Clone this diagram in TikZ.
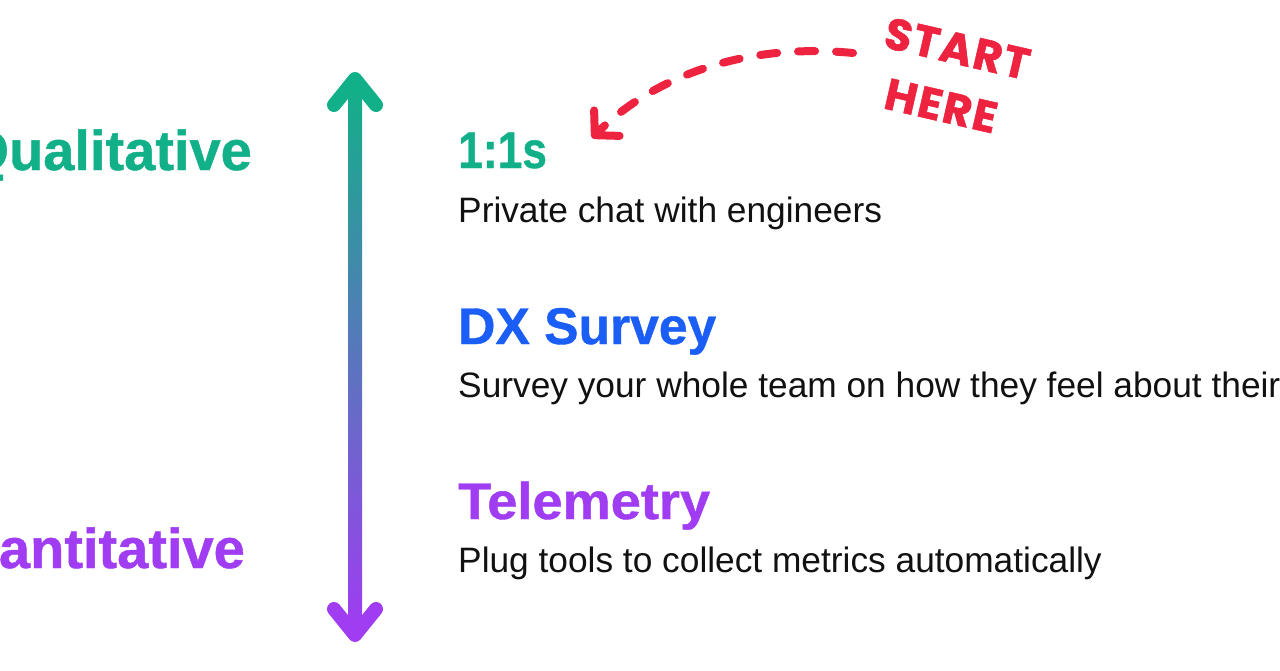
\documentclass[tikz,border=0pt]{standalone}
\usepackage{fontspec}
\setmainfont{Liberation Sans}[BoldFeatures={FakeBold=0.8}]
\newfontfamily\handfont{Poppins}[LetterSpace=4, BoldFeatures={FakeBold=1.2}]
\usetikzlibrary{arrows.meta}
\definecolor{qgreen}{HTML}{12B088}
\definecolor{dxblue}{HTML}{1A5EF5}
\definecolor{tpurple}{HTML}{A03CF2}
\definecolor{hred}{HTML}{EE2340}
\definecolor{ink}{HTML}{111111}
\tikzset{
  title/.style={anchor=base west, inner sep=0pt, font=\fontsize{51.6}{60}\selectfont\bfseries},
  desc/.style={anchor=base west, inner sep=0pt, text=ink, font=\fontsize{35.3}{42}\selectfont},
  side/.style={anchor=base east, inner sep=0pt, font=\fontsize{56}{62}\selectfont\bfseries},
  hand/.style={anchor=base west, inner sep=0pt, text=hred, rotate=-13, font=\handfont\bfseries\fontsize{44}{48}\selectfont},
  head/.style={line width=14pt, line cap=round, line join=round},
}
\begin{document}
\begin{tikzpicture}[x=1pt,y=-1pt]
\useasboundingbox (0,0) rectangle (1280,670);
\fill[white] (0,0) rectangle (1280,670);
\clip (0,0) rectangle (1280,670);

% side labels
\node[side, text=qgreen] (qual) at (252,170) {Qualitative};
\node[side, text=tpurple] (quant) at (245,568) {Quantitative};

% gradient double arrow
\coordinate (top) at (355,79);
\coordinate (bot) at (355,635);
\shade[top color=qgreen, bottom color=tpurple] (348,85) rectangle (362,629);
\draw[head, qgreen] ([xshift=-21pt,yshift=-26pt]top) -- (top) -- ([xshift=21pt,yshift=-26pt]top);
\draw[head, tpurple] ([xshift=-21pt,yshift=26pt]bot) -- (bot) -- ([xshift=21pt,yshift=26pt]bot);

% items
\node[title, text=qgreen] (one) at (458,168) {\scalebox{0.86}[1]{1:1s}};
\node[desc] (oned) at (458,222) {Private chat with engineers};
\node[title, text=dxblue] (dx) at (458,344) {DX Survey};
\node[desc] (dxd) at (458,397) {Survey your whole team on how they feel about their};
\node[title, text=tpurple] (tel) at (458,519) {\scalebox{1.05}[1]{Telemetry}};
\node[desc] (teld) at (458,572) {Plug tools to collect metrics automatically};

% start here
\node[hand] (start) at (882,47) {START};
\node[hand] (here) at (882,108) {HERE};
\coordinate (s) at (853,53);
\coordinate (e) at (592,138);
\draw[hred, line width=8pt, line cap=round, dash pattern=on 17pt off 21pt,
  -{Straight Barb[length=17pt, width=36pt, round]}]
  (s) .. controls (740,42) and (650,80) .. (e);
\end{tikzpicture}
\end{document}
